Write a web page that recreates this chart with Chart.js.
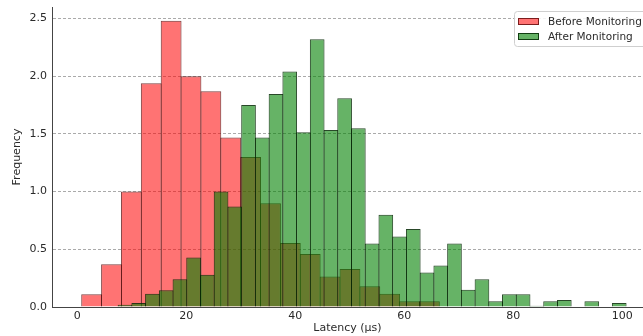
<!DOCTYPE html>
<html>
<head>
<meta charset="utf-8">
<script src="https://cdn.jsdelivr.net/npm/chart.js@4.4.1/dist/chart.umd.min.js"></script>
<style>
  html, body { margin: 0; padding: 0; background: #fff; }
  #wrap { width: 643px; height: 336px; }
</style>
</head>
<body>
<div id="wrap"><canvas id="latencyChart" width="643" height="336"></canvas></div>
<script>
// histogram data (bin centres in µs, heights as shown)
const seriesLabels = ['Before Monitoring', 'After Monitoring'];

const beforeBins = [2.63, 6.28, 9.92, 13.57, 17.22, 20.86, 24.51, 28.15, 31.80,
    35.45, 39.09, 42.74, 46.38, 50.03, 53.68, 57.32, 60.97, 64.61];
const beforeValues = [0.11, 0.37, 1.00, 1.94, 2.48, 2.00, 1.87, 1.47, 1.30,
    0.90, 0.555, 0.46, 0.265, 0.33, 0.18, 0.115, 0.05, 0.05];

const afterBins = [8.75, 11.27, 13.79, 16.31, 18.83, 21.34, 23.86, 26.38, 28.90,
    31.42, 33.94, 36.46, 38.98, 41.50, 44.02, 46.54, 49.05, 51.57, 54.09, 56.61,
    59.13, 61.65, 64.17, 66.69, 69.21, 71.73, 74.25, 76.76, 79.28, 81.80, 84.32,
    86.84, 89.36, 91.88, 94.40, 96.92, 99.44];
const afterValues = [0.02, 0.035, 0.115, 0.145, 0.24, 0.43, 0.28, 1.00, 0.87,
    1.75, 1.47, 1.845, 2.04, 1.515, 2.32, 1.535, 1.81, 1.55, 0.55, 0.80,
    0.61, 0.675, 0.30, 0.36, 0.55, 0.15, 0.24, 0.05, 0.11, 0.11, 0.01,
    0.05, 0.06, 0, 0.05, 0, 0.035];

const xTicks = [0, 20, 40, 60, 80, 100];
const yTicks = [0, 0.5, 1.0, 1.5, 2.0, 2.5];

const tickFont = { family: '"DejaVu Sans", sans-serif', size: 11 };
const textColor = '#2a2a2a';

// legend box drawn inside the plot, top right
const boxLegend = {
    id: 'boxLegend',
    afterDraw(chart) {
        const ctx = chart.ctx;
        ctx.save();
        ctx.fillStyle = 'rgba(255,255,255,0.85)';
        ctx.strokeStyle = '#cfcfcf';
        ctx.lineWidth = 1;
        ctx.beginPath();
        ctx.roundRect(514.5, 11.5, 140, 35, 3);
        ctx.fill();
        ctx.stroke();
        ctx.font = '10.5px "DejaVu Sans", sans-serif';
        ctx.textBaseline = 'middle';
        chart.data.datasets.forEach((ds, i) => {
            const sy = 18 + i * 15;
            ctx.fillStyle = '#fff';
            ctx.fillRect(518, sy, 21, 7);
            ctx.fillStyle = ds.backgroundColor;
            ctx.fillRect(518, sy, 21, 7);
            ctx.strokeStyle = ds.borderColor;
            ctx.strokeRect(518.5, sy + 0.5, 20, 6);
            ctx.fillStyle = textColor;
            ctx.fillText(ds.label, 548, sy + 4);
        });
        ctx.restore();
    }
};

new Chart(document.getElementById('latencyChart'), {
    type: 'bar',
    data: {
        datasets: [
            {
                label: seriesLabels[0],
                data: beforeBins.map((x, i) => ({ x: x, y: beforeValues[i] })),
                xAxisID: 'x',
                backgroundColor: 'rgba(255,0,0,0.55)',
                borderColor: 'rgba(80,0,0,0.75)',
                borderWidth: 1,
                categoryPercentage: 1,
                barPercentage: 1.05,
                grouped: false,
                order: 2
            },
            {
                label: seriesLabels[1],
                data: afterBins.map((x, i) => ({ x: x, y: afterValues[i] })),
                xAxisID: 'x2',
                backgroundColor: 'rgba(0,128,0,0.6)',
                borderColor: 'rgba(4,40,4,0.85)',
                borderWidth: 1,
                categoryPercentage: 1,
                barPercentage: 1.073,
                grouped: false,
                order: 1
            }
        ]
    },
    options: {
        responsive: false,
        animation: false,
        layout: { padding: { top: 7, right: 0, left: 0, bottom: 0 } },
        plugins: {
            legend: { display: false },
            tooltip: { enabled: false }
        },
        scales: {
            x: {
                type: 'linear',
                position: 'bottom',
                offset: false,
                min: -4.64,
                max: 103.8,
                grid: { display: false, drawTicks: false, offset: false },
                border: { display: true, color: '#444', width: 1 },
                ticks: { font: tickFont, color: textColor, padding: 3, maxRotation: 0 },
                afterBuildTicks: s => { s.ticks = xTicks.map(v => ({ value: v })); },
                afterFit: s => { s.height = 29; s.paddingLeft = 0; s.paddingRight = 0; },
                title: {
                    display: true,
                    text: 'Latency (μs)',
                    font: tickFont,
                    color: textColor,
                    padding: { top: 0, bottom: 1 }
                }
            },
            x2: {
                type: 'linear',
                display: false,
                offset: false,
                grid: { offset: false },
                min: -4.64,
                max: 103.8
            },
            y: {
                min: 0,
                max: 2.6,
                grid: {
                    color: c => (c.tick && c.tick.value === 0) ? 'rgba(0,0,0,0)' : '#aaaaaa',
                    lineWidth: 1,
                    drawTicks: false
                },
                border: { display: true, color: '#444', width: 1, dash: [3, 2] },
                ticks: {
                    font: tickFont,
                    color: textColor,
                    padding: 5,
                    callback: v => v.toFixed(1)
                },
                afterBuildTicks: s => { s.ticks = yTicks.map(v => ({ value: v })); },
                afterFit: s => { s.width = 52; s.paddingTop = 0; s.paddingBottom = 0; },
                title: {
                    display: true,
                    text: 'Frequency',
                    font: tickFont,
                    color: textColor,
                    padding: { top: 11, bottom: 0 }
                }
            }
        }
    },
    plugins: [boxLegend]
});
</script>
</body>
</html>
